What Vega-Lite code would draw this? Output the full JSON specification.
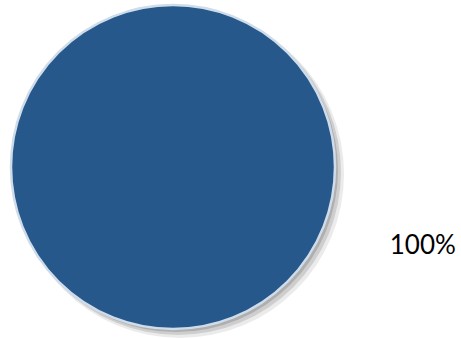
{
  "$schema": "https://vega.github.io/schema/vega-lite/v6.json",
  "width": 346,
  "height": 334,
  "padding": 0,
  "background": "white",
  "data": {"values": [{"category": "A", "value": 100, "label": "100%"}]},
  "layer": [
    {
      "mark": {"type": "arc", "outerRadius": 164, "color": "#000000", "opacity": 0.08, "xOffset": 7, "yOffset": 7},
      "encoding": {"theta": {"field": "value", "type": "quantitative"}}
    },
    {
      "mark": {"type": "arc", "outerRadius": 163, "color": "#000000", "opacity": 0.12, "xOffset": 5, "yOffset": 5},
      "encoding": {"theta": {"field": "value", "type": "quantitative"}}
    },
    {
      "mark": {"type": "arc", "outerRadius": 162, "color": "#000000", "opacity": 0.15, "xOffset": 3, "yOffset": 3},
      "encoding": {"theta": {"field": "value", "type": "quantitative"}}
    },
    {
      "mark": {"type": "arc", "outerRadius": 162, "stroke": "#cfdcea", "strokeWidth": 2.5, "fill": "#27588b"},
      "encoding": {"theta": {"field": "value", "type": "quantitative"}}
    },
    {
      "mark": {"type": "text", "radius": 262, "font": "Lato", "fontSize": 26, "color": "#000000", "align": "center", "baseline": "middle"},
      "encoding": {
        "theta": {"field": "value", "type": "quantitative", "stack": true, "scale": {"range": [0, 3.7538]}},
        "text": {"field": "label", "type": "nominal"}
      }
    }
  ],
  "resolve": {"scale": {"theta": "independent"}},
  "config": {"view": {"stroke": null}}
}
